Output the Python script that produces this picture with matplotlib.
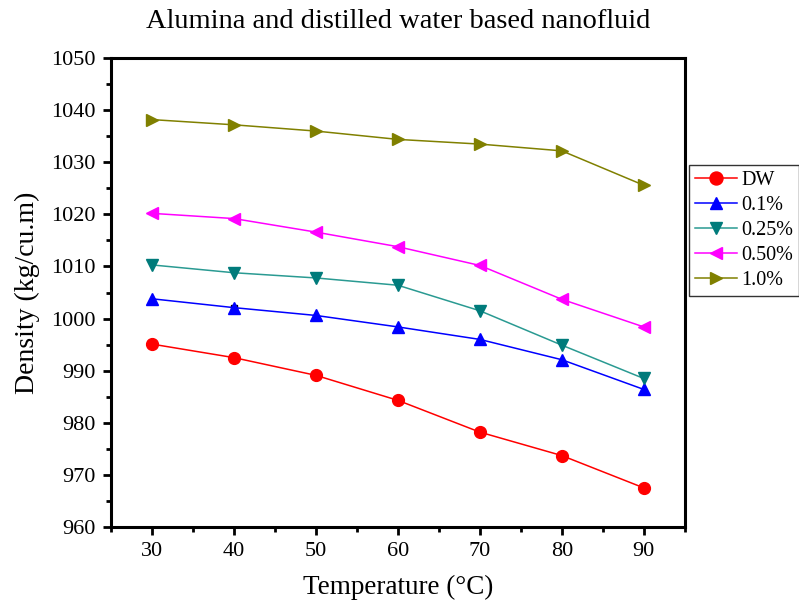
import numpy as np
import matplotlib.pyplot as plt
from matplotlib.ticker import MultipleLocator

plt.rcParams['font.family'] = ['Liberation Serif', 'DejaVu Serif']
plt.rcParams['mathtext.fontset'] = 'stix'

temps = [30, 40, 50, 60, 70, 80, 90]
dw = [995.1, 992.5, 989.1, 984.3, 978.2, 973.7, 967.5]
c01 = [1003.8, 1002.1, 1000.6, 998.4, 996.0, 992.1, 986.4]
c025 = [1010.3, 1008.8, 1007.8, 1006.4, 1001.5, 994.9, 988.5]
c050 = [1020.2, 1019.2, 1016.6, 1013.8, 1010.2, 1003.7, 998.4]
c10 = [1038.2, 1037.2, 1036.0, 1034.4, 1033.5, 1032.2, 1025.6]

series = [
    ("DW", dw, "red", "red", "o"),
    ("0.1%", c01, "blue", "blue", "^"),
    ("0.25%", c025, "#2a9a92", "#007b7b", "v"),
    ("0.50%", c050, "magenta", "magenta", "<"),
    ("1.0%", c10, "#808000", "#808000", ">"),
]

fig = plt.figure(figsize=(7.99, 6.12), dpi=100)
ax = fig.add_axes([0.139, 0.139, 0.718, 0.766])

for name, vals, lc, mc, mk in series:
    ax.plot(temps, vals, color=lc, lw=1.1, marker=mk, markersize=8.5,
            markerfacecolor=mc, markeredgecolor=mc, label=name)

# small black square sitting under the 40 °C point of 0.1%
ax.plot([40], [1002.1], marker='s', color='black', markersize=5, zorder=1.5)

ax.set_xlim(25, 95)
ax.set_ylim(960, 1050)
ax.xaxis.set_major_locator(MultipleLocator(10))
ax.xaxis.set_minor_locator(MultipleLocator(5))
ax.yaxis.set_major_locator(MultipleLocator(10))
ax.yaxis.set_minor_locator(MultipleLocator(5))
ax.tick_params(which='both', direction='out', width=2, labelsize=16, top=False, right=False)
ax.tick_params(which='major', length=6, pad=5)
ax.tick_params(which='minor', length=3.5)
for s in ax.spines.values():
    s.set_linewidth(2.2)

ax.set_xlabel("Temperature (°C)", fontsize=19.5, labelpad=10)
ax.set_ylabel("Density (kg/cu.m)", fontsize=20, labelpad=8)
ax.set_title("Alumina and distilled water based nanofluid", fontsize=20.5, pad=22)

ax.legend(loc='upper left', bbox_to_anchor=(0.862, 0.731), bbox_transform=fig.transFigure,
          frameon=True, fancybox=False, edgecolor='black', fontsize=14.5,
          handlelength=2.1, borderpad=0.3, labelspacing=0.3, handletextpad=0.2,
          borderaxespad=0, markerscale=1.1)

fig.savefig("out.png", dpi=100)
